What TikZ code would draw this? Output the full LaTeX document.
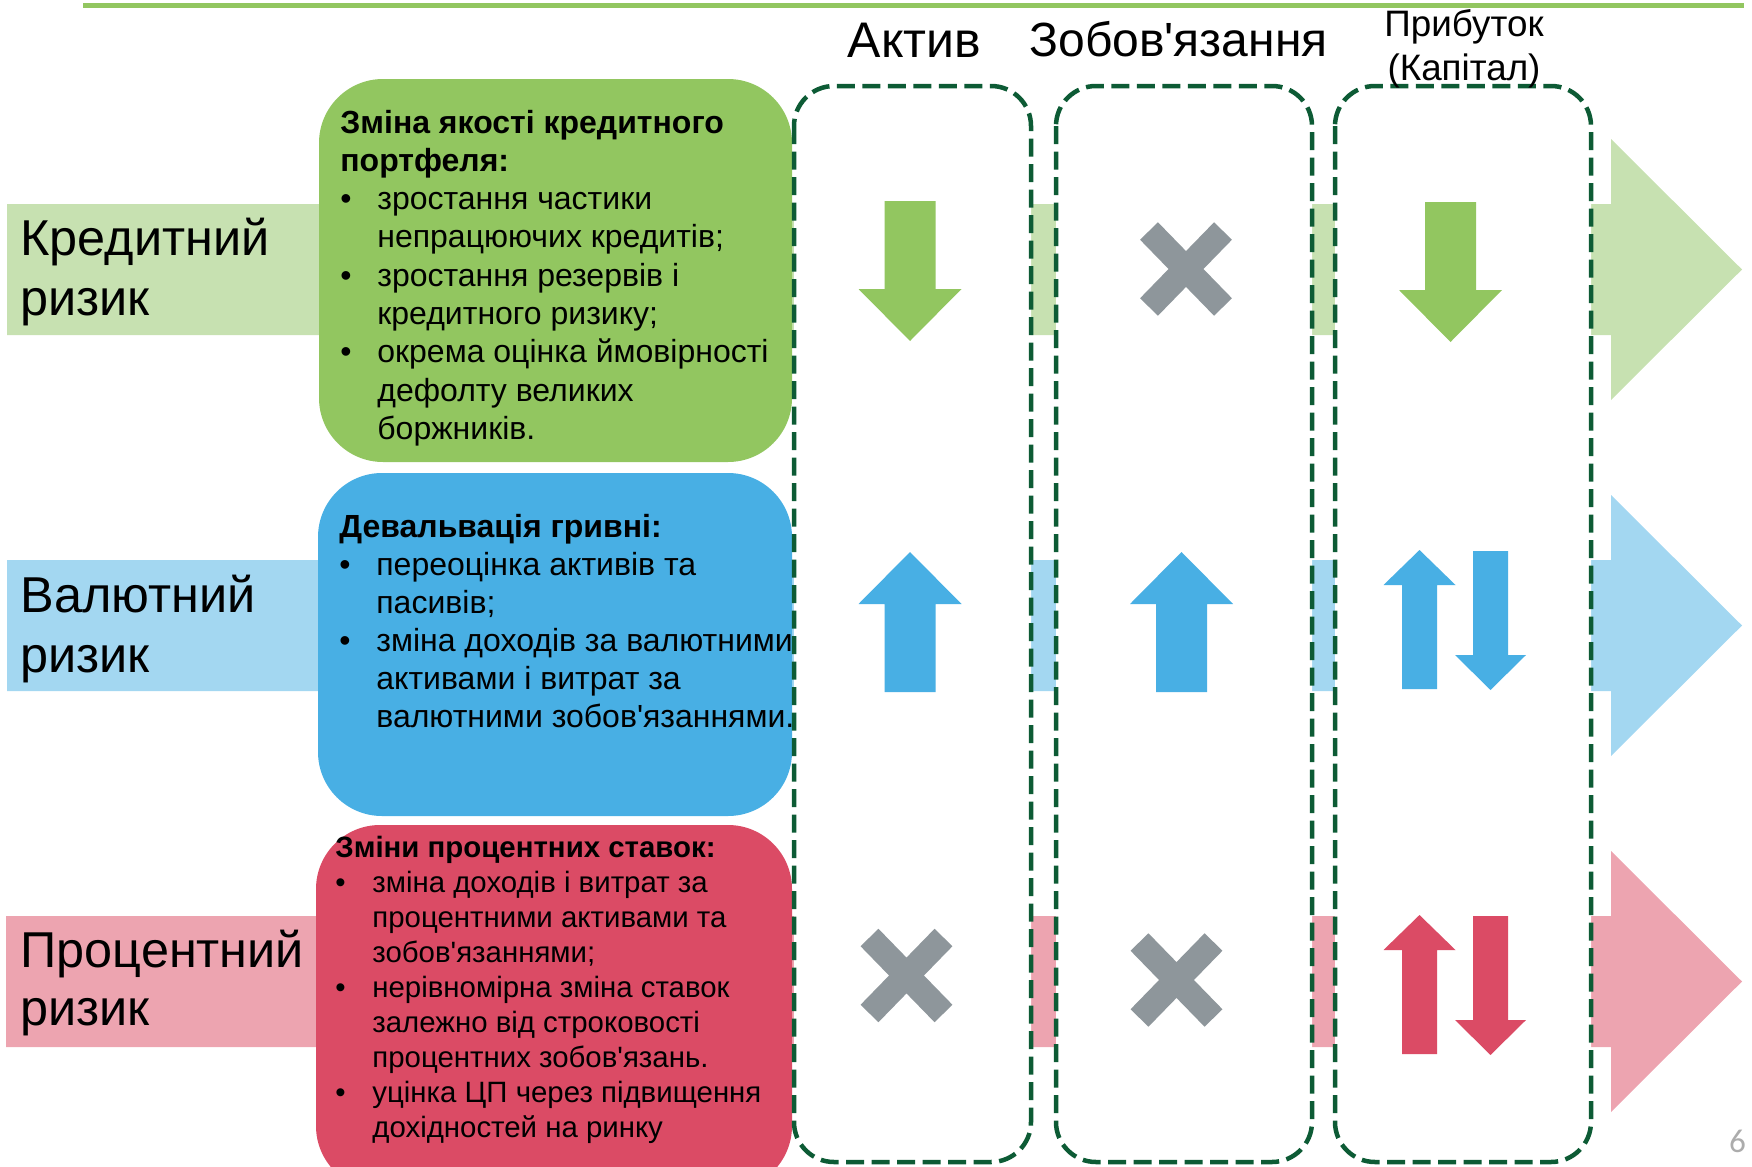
\documentclass[tikz,border=0pt]{standalone}
\usepackage{fontspec}
\setmainfont{Liberation Sans}[Ligatures=TeXOff]
\newfontfamily\slidenumfont{Carlito}
\usepackage{xcolor}
\usepackage{tikz}
\definecolor{bandgreen}{HTML}{C7E1B1}
\definecolor{boxgreen}{HTML}{92C660}
\definecolor{bandblue}{HTML}{A3D7F1}
\definecolor{boxblue}{HTML}{48AFE4}
\definecolor{bandred}{HTML}{EDA4B0}
\definecolor{boxred}{HTML}{DB4B65}
\definecolor{crossgray}{HTML}{8E969B}
\definecolor{coldash}{HTML}{0D5B35}
\newcommand{\riskbullet}{\makebox[18.5pt][l]{•}}
\newcommand{\riskindent}{\hspace*{18.5pt}}

\begin{document}
\begin{tikzpicture}[x=0.5pt, y=-0.5pt,
    riskbox/.style={rounded corners=32pt},
    dashcol/.style={draw=coldash, fill=white, line width=2.25pt, dash pattern=on 9pt off 3.75pt, rounded corners=20pt},
    crossmark/.style={draw=crossgray, line width=12.5pt},
    risklabel/.style={anchor=base west, inner sep=0pt, font=\fontsize{25.2}{30}\selectfont},
    colhead/.style={anchor=base, inner sep=0pt, font=\fontsize{25}{30}\selectfont},
    boxtext/.style={anchor=base west, inner sep=0pt, font=\fontsize{16}{19.15}\selectfont}]
    \useasboundingbox (0,0) rectangle (1752,1167);
    \draw[boxgreen, line width=2.5pt] (83,5.5) -- (1744,5.5);
    \fill[bandgreen] (7,204) -- (1611,204) -- (1611,139) -- (1742,269.5) -- (1611,400) -- (1611,335) -- (7,335) -- cycle;
    \fill[bandblue] (7,560) -- (1611,560) -- (1611,495) -- (1742,625.5) -- (1611,756) -- (1611,691) -- (7,691) -- cycle;
    \fill[bandred] (6,916) -- (1611,916) -- (1611,851) -- (1742,981.5) -- (1611,1112) -- (1611,1047) -- (6,1047) -- cycle;
    \fill[boxgreen, riskbox] (319,79) rectangle (792,462);
    \fill[boxblue, riskbox] (318,473) rectangle (792,816);
    \fill[boxred, riskbox] (316,825) rectangle (792,1190);
    \draw[dashcol] (794,86) rectangle (1031,1162);
    \draw[dashcol] (1056,86) rectangle (1312,1162);
    \draw[dashcol] (1335,86) rectangle (1591,1162);
    \fill[boxgreen, shift={(910,201)}] (-25.5,0) -- (25.5,0) -- (25.5,88) -- (51.5,88) -- (0,140) -- (-51.5,88) -- (-25.5,88) -- cycle;
    \fill[boxgreen, shift={(1450.5,202)}] (-25.5,0) -- (25.5,0) -- (25.5,88) -- (51.5,88) -- (0,140) -- (-51.5,88) -- (-25.5,88) -- cycle;
    \fill[boxblue, shift={(910,552)}] (0,0) -- (51.5,52) -- (25.5,52) -- (25.5,140) -- (-25.5,140) -- (-25.5,52) -- (-51.5,52) -- cycle;
    \fill[boxblue, shift={(1181.5,552)}] (0,0) -- (51.5,52) -- (25.5,52) -- (25.5,140) -- (-25.5,140) -- (-25.5,52) -- (-51.5,52) -- cycle;
    \fill[boxblue, shift={(1419.5,550)}] (0,0) -- (36,35) -- (17.5,35) -- (17.5,139) -- (-17.5,139) -- (-17.5,35) -- (-36,35) -- cycle;
    \fill[boxblue, shift={(1490.5,551)}] (-17.5,0) -- (17.5,0) -- (17.5,104) -- (35.5,104) -- (0,139) -- (-35.5,104) -- (-17.5,104) -- cycle;
    \fill[boxred, shift={(1419.5,915)}] (0,0) -- (36,35) -- (17.5,35) -- (17.5,139) -- (-17.5,139) -- (-17.5,35) -- (-36,35) -- cycle;
    \fill[boxred, shift={(1490.5,916)}] (-17.5,0) -- (17.5,0) -- (17.5,104) -- (35.5,104) -- (0,139) -- (-35.5,104) -- (-17.5,104) -- cycle;
    \draw[crossmark] (1149,231) -- (1223,307) (1223,231) -- (1149,307);
    \draw[crossmark] (869.5,937.5) -- (943.5,1013.5) (943.5,937.5) -- (869.5,1013.5);
    \draw[crossmark] (1139.5,942) -- (1213.5,1018) (1213.5,942) -- (1139.5,1018);
    \node[risklabel] (credit) at (20,255) {\parbox[t]{160pt}{Кредитний\\ризик}};
    \node[risklabel] (currency) at (20,612) {\parbox[t]{160pt}{Валютний\\ризик}};
    \node[risklabel, font=\fontsize{25.2}{29}\selectfont] (interest) at (20,967) {\parbox[t]{160pt}{Процентний\\ризик}};
    \node[colhead] (asset) at (914.5,57) {Актив};
    \node[colhead, font=\fontsize{24}{30}\selectfont] (liability) at (1178.5,56) {Зобов'язання};
    \node[colhead, font=\fontsize{18.4}{22}\selectfont] (profit) at (1464,36) {\parbox[t]{120pt}{\centering Прибуток\\(Капітал)}};
    \node[boxtext] (creditnote) at (340,133) {\parbox[t]{240pt}{%
        \textbf{Зміна якості кредитного}\\
        \textbf{портфеля:}\\
        \riskbullet зростання частики\\
        \riskindent непрацюючих кредитів;\\
        \riskbullet зростання резервів і\\
        \riskindent кредитного ризику;\\
        \riskbullet окрема оцінка ймовірності\\
        \riskindent дефолту великих\\
        \riskindent боржників.}};
    \node[boxtext, font=\fontsize{16}{19}\selectfont] (currencynote) at (339,537) {\parbox[t]{240pt}{%
        \textbf{Девальвація гривні:}\\
        \riskbullet переоцінка активів та\\
        \riskindent пасивів;\\
        \riskbullet зміна доходів за валютними\\
        \riskindent активами і витрат за\\
        \riskindent валютними зобов'язаннями.}};
    \node[boxtext, font=\fontsize{14.7}{17.55}\selectfont] (interestnote) at (335,857) {\parbox[t]{240pt}{%
        \textbf{Зміни процентних ставок:}\\
        \riskbullet зміна доходів і витрат за\\
        \riskindent процентними активами та\\
        \riskindent зобов'язаннями;\\
        \riskbullet нерівномірна зміна ставок\\
        \riskindent залежно від строковості\\
        \riskindent процентних зобов'язань.\\
        \riskbullet уцінка ЦП через підвищення\\
        \riskindent дохідностей на ринку}};
    \node[anchor=base, inner sep=0pt, font=\slidenumfont\fontsize{16.6}{20}\selectfont, text=gray!65] (slidenum) at (1737.5,1152) {6};
  \end{tikzpicture}
\end{document}
